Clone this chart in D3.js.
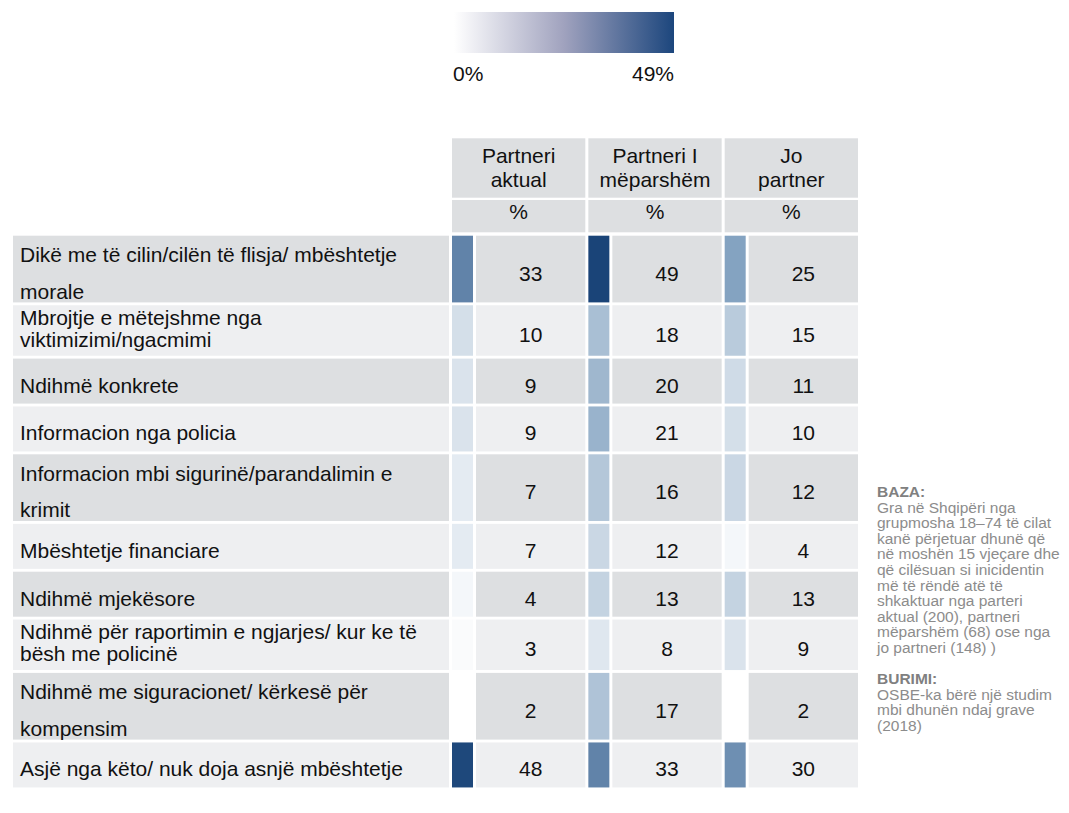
<!DOCTYPE html>
<html>
<head>
<meta charset="utf-8">
<script src="https://cdn.jsdelivr.net/npm/d3@7"></script>
<style>
  body { margin: 0; background: #fff; }
  svg text { font-family: "Liberation Sans", Arial, sans-serif; }
</style>
</head>
<body>
<div id="chart"></div>
<script>
// data
var groups = [["Partneri", "aktual"], ["Partneri I", "mëparshëm"], ["Jo", "partner"]];
var categories = [
  ["Dikë me të cilin/cilën të flisja/ mbështetje", "morale"],
  ["Mbrojtje e mëtejshme nga", "viktimizimi/ngacmimi"],
  ["Ndihmë konkrete"],
  ["Informacion nga policia"],
  ["Informacion mbi sigurinë/parandalimin e", "krimit"],
  ["Mbështetje financiare"],
  ["Ndihmë mjekësore"],
  ["Ndihmë për raportimin e ngjarjes/ kur ke të", "bësh me policinë"],
  ["Ndihmë me siguracionet/ kërkesë për", "kompensim"],
  ["Asjë nga këto/ nuk doja asnjë mbështetje"]
];
var partneriAktual = [33, 10, 9, 9, 7, 7, 4, 3, 2, 48];
var partneriMeparshem = [49, 18, 20, 21, 16, 12, 13, 8, 17, 33];
var joPartner = [25, 15, 11, 10, 12, 4, 13, 9, 2, 30];
var series = [partneriAktual, partneriMeparshem, joPartner];
var legendTicks = ["0%", "49%"];
var noteBaza = ["Gra në Shqipëri nga", "grupmosha 18–74 të cilat", "kanë përjetuar dhunë që",
  "në moshën 15 vjeçare dhe", "që cilësuan si inicidentin", "më të rëndë atë të",
  "shkaktuar nga parteri", "aktual (200),  partneri", "mëparshëm (68) ose nga", "jo partneri (148) )"];
var noteBurimi = ["OSBE-ka bërë një studim", "mbi dhunën ndaj grave", "(2018)"];

// row style: 2 = two lines with wide gap, 1 = two lines tight, 0 = one line
var rowKind = [2, 1, 0, 0, 2, 0, 0, 1, 2, 0];
var kindHeight = [45, 50.5, 66.7];
var gap = 2.85;

var svg = d3.select("#chart").append("svg")
  .attr("width", 1069).attr("height", 813);

var dark = "#dddfe1", light = "#eeeff1", ink = "#111";

// legend
var defs = svg.append("defs");
var grad = defs.append("linearGradient").attr("id", "lg");
grad.append("stop").attr("offset", "0%").attr("stop-color", "#ffffff");
grad.append("stop").attr("offset", "50%").attr("stop-color", "#a0a2be");
grad.append("stop").attr("offset", "100%").attr("stop-color", "#1c467d");

var lx = d3.scaleLinear().domain([0, 49]).range([454, 674]);
svg.append("rect")
  .attr("x", lx(0)).attr("y", 12)
  .attr("width", lx(49) - lx(0)).attr("height", 41)
  .attr("fill", "url(#lg)");
svg.append("text").attr("x", lx(0) - 1).attr("y", 81)
  .attr("font-size", 21).attr("fill", ink).text(legendTicks[0]);
svg.append("text").attr("x", lx(49)).attr("y", 81)
  .attr("text-anchor", "end")
  .attr("font-size", 21).attr("fill", ink).text(legendTicks[1]);

// scales
var color = d3.scaleLinear().domain([2, 25, 49])
  .range(["#ffffff", "#84a3c1", "#1a4478"]);

var col = d3.scaleBand().domain(d3.range(groups.length))
  .range([452, 858]).paddingInner(3 / 135);
var sqW = 21, sqGap = 3;

var tops = [], y0 = 235.7;
rowKind.forEach(function(k) { tops.push(y0); y0 += kindHeight[k] + gap; });
var rowTop = d3.scaleOrdinal().domain(d3.range(categories.length)).range(tops);
var rowH = function(i) { return kindHeight[rowKind[i]]; };

// header
var head = svg.append("g");
groups.forEach(function(g, j) {
  head.append("rect")
    .attr("x", col(j)).attr("y", 138.3)
    .attr("width", col.bandwidth()).attr("height", 59.4)
    .attr("fill", dark);
  head.append("text")
    .attr("x", col(j) + col.bandwidth() / 2).attr("text-anchor", "middle")
    .attr("font-size", 21).attr("fill", ink)
    .selectAll("tspan").data(g).join("tspan")
      .attr("x", col(j) + col.bandwidth() / 2)
      .attr("y", function(d, k) { return 162.7 + k * 24; })
      .text(function(d) { return d; });
  head.append("rect")
    .attr("x", col(j)).attr("y", 200)
    .attr("width", col.bandwidth()).attr("height", 32.3)
    .attr("fill", dark);
  head.append("text")
    .attr("x", col(j) + col.bandwidth() / 2).attr("y", 218.5)
    .attr("text-anchor", "middle")
    .attr("font-size", 21).attr("fill", ink).text("%");
});

// rows
var rows = svg.append("g").selectAll("g")
  .data(categories).join("g")
  .attr("transform", function(d, i) { return "translate(0," + rowTop(i) + ")"; });

rows.append("rect")
  .attr("x", 13).attr("width", 436)
  .attr("height", function(d, i) { return rowH(i); })
  .attr("fill", function(d, i) { return i % 2 === 0 ? dark : light; });

rows.append("text")
  .attr("font-size", 21).attr("fill", ink)
  .each(function(lines, i) {
    var k = rowKind[i], h = rowH(i);
    d3.select(this).selectAll("tspan").data(lines).join("tspan")
      .attr("x", 20)
      .attr("y", function(d, n) {
        if (k === 0) return h / 2 + 11.5;
        if (k === 1) return 19.5 + n * 22;
        return 26.5 + n * 36.5;
      })
      .text(function(d) { return d; });
  });

series.forEach(function(vals, j) {
  rows.append("rect")
    .attr("x", col(j)).attr("width", sqW)
    .attr("height", function(d, i) { return rowH(i); })
    .attr("fill", function(d, i) { return color(vals[i]); });
  rows.append("rect")
    .attr("x", col(j) + sqW + sqGap)
    .attr("width", col.bandwidth() - sqW - sqGap)
    .attr("height", function(d, i) { return rowH(i); })
    .attr("fill", function(d, i) { return i % 2 === 0 ? dark : light; });
  rows.append("text")
    .attr("x", col(j) + sqW + sqGap + (col.bandwidth() - sqW - sqGap) / 2)
    .attr("y", function(d, i) { return rowH(i) / 2 + 11.5; })
    .attr("text-anchor", "middle")
    .attr("font-size", 21).attr("fill", ink)
    .text(function(d, i) { return vals[i]; });
});

// notes on the right
var note = svg.append("g").attr("font-size", 15.5);
var lineH = 15.6, nx = 877, ny = 497;
note.append("text").attr("x", nx).attr("y", ny)
  .attr("font-weight", "bold").attr("fill", "#808080").text("BAZA:");
note.append("text").attr("fill", "#8c8c8c")
  .selectAll("tspan").data(noteBaza).join("tspan")
  .attr("x", nx).attr("y", function(d, i) { return ny + (i + 1) * lineH; })
  .text(function(d) { return d; });
var by = ny + (noteBaza.length + 2) * lineH;
note.append("text").attr("x", nx).attr("y", by)
  .attr("font-weight", "bold").attr("fill", "#808080").text("BURIMI:");
note.append("text").attr("fill", "#8c8c8c")
  .selectAll("tspan").data(noteBurimi).join("tspan")
  .attr("x", nx).attr("y", function(d, i) { return by + (i + 1) * lineH; })
  .text(function(d) { return d; });
</script>
</body>
</html>
